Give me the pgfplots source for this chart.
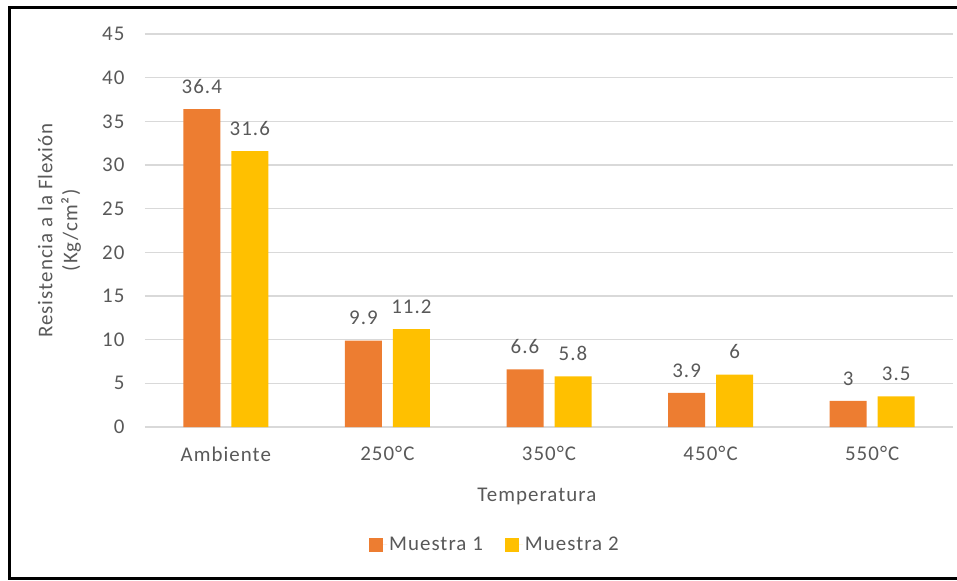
\documentclass[border=0pt]{standalone}
\usepackage{pgfplots}
\pgfplotsset{compat=1.18}
\usepackage{fontspec}
\setmainfont{Carlito}[LetterSpace=5]
\definecolor{orangeA}{HTML}{ED7D31}
\definecolor{goldB}{HTML}{FFC000}
\definecolor{txt}{HTML}{595959}
\definecolor{gridc}{HTML}{D9D9D9}
\newcommand{\lbl}{\fontsize{21}{25}\selectfont}

\begin{document}
\begin{tikzpicture}
\useasboundingbox (-145bp,-154bp) rectangle (812bp,427bp);
\begin{axis}[
  at={(0,0)}, anchor=south west,
  scale only axis, width=808bp, height=393bp,
  xmin=-0.5, xmax=4.5, ymin=0, ymax=45,
  ytick={0,5,...,45},
  xtick={0,1,2,3,4},
  xticklabels={Ambiente,250°C,350°C,450°C,550°C},
  axis line style={draw=none},
  ymajorgrids, grid style={gridc, line width=1.3bp},
  major tick length=0pt,
  tick label style={txt, font=\lbl},
  /pgf/number format/assume math mode=true,
  yticklabel style={xshift=-17bp},
  xticklabel style={yshift=-16bp},
  ybar=11bp, bar width=37bp,
  nodes near coords,
  nodes near coords style={txt, font=\lbl, yshift=12bp},
  xlabel={Temperatura},
  xlabel style={txt, font=\lbl, at={(axis description cs:0.485,-0.1756)}, anchor=center},
  ylabel={Resistencia a la Flexión\\(Kg/cm²)},
  ylabel style={txt, font=\lbl, align=center, at={(axis description cs:-0.106,0.5)}, anchor=center},
  legend columns=2,
  legend style={draw=none, font=\lbl, text=txt, at={(axis description cs:0.433,-0.300)}, anchor=center,
    /tikz/every even column/.append style={column sep=20bp}},
  legend image code/.code={\fill[#1] (0bp,-7bp) rectangle (14bp,7bp); \path (14bp,0bp) -- (18bp,0bp);},
]
\addplot[fill=orangeA, draw=none] coordinates {(0,36.4) (1,9.9) (2,6.6) (3,3.9) (4,3)};
\addplot[fill=goldB, draw=none] coordinates {(0,31.6) (1,11.2) (2,5.8) (3,6) (4,3.5)};
\legend{Muestra 1, Muestra 2}
\end{axis}
\draw[line width=3bp] (815bp,419bp) -- (-135bp,419bp) -- (-135bp,-151bp) -- (815bp,-151bp);
\end{tikzpicture}
\end{document}
